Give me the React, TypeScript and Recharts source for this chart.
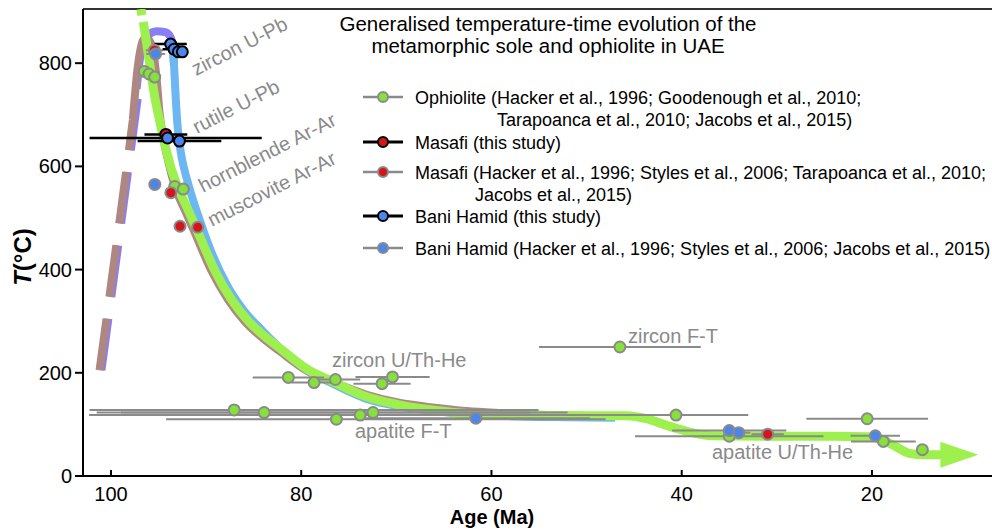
import React from "react";
import { ComposedChart, Line, Scatter, ErrorBar, XAxis, YAxis, ReferenceLine } from "recharts";

const xTicks = [100, 80, 60, 40, 20];
const yTicks = [0, 200, 400, 600, 800];

// thermal paths (age in Ma, T in °C)
const ophioliteTop = [
  { age: 96.85, T: 905 },
  { age: 96.75, T: 893 },
];
const ophiolitePath = [
  { age: 96.6, T: 880 }, { age: 96.3, T: 845 }, { age: 95.9, T: 795 }, { age: 95.4, T: 735 },
  { age: 94.9, T: 690 }, { age: 94.4, T: 648 }, { age: 93.7, T: 598 }, { age: 92.9, T: 557 },
  { age: 91.8, T: 512 }, { age: 90.8, T: 470 }, { age: 89.0, T: 395 }, { age: 87.3, T: 341 },
  { age: 85.5, T: 299 }, { age: 83.8, T: 270 }, { age: 82.0, T: 244 }, { age: 79.2, T: 205 },
  { age: 76.7, T: 183 }, { age: 73.2, T: 154 }, { age: 69.7, T: 138 }, { age: 66.2, T: 128 },
  { age: 62.6, T: 121 }, { age: 59.1, T: 118 }, { age: 52, T: 117 }, { age: 46, T: 117 },
  { age: 43.5, T: 110 }, { age: 42.2, T: 102 }, { age: 40.5, T: 92 }, { age: 38.7, T: 83 },
  { age: 36.9, T: 78 }, { age: 30, T: 77 }, { age: 24, T: 77 }, { age: 20.5, T: 76 },
  { age: 19.3, T: 73 }, { age: 18.3, T: 65 }, { age: 17.5, T: 57 }, { age: 16.1, T: 44 },
  { age: 14.5, T: 41 }, { age: 12.6, T: 41 },
];
const baniPath = [
  { age: 93.5, T: 842 }, { age: 93.35, T: 790 }, { age: 93.2, T: 735 }, { age: 93.05, T: 690 },
  { age: 92.7, T: 632 }, { age: 92.3, T: 595 }, { age: 91.8, T: 561 }, { age: 90.6, T: 492 },
  { age: 89.4, T: 432 }, { age: 87.8, T: 370 }, { age: 86, T: 320 }, { age: 84, T: 280 },
  { age: 82, T: 244 }, { age: 79.2, T: 203 }, { age: 76.7, T: 179 }, { age: 73.2, T: 150 },
  { age: 69.7, T: 135 }, { age: 66, T: 126 }, { age: 62.6, T: 120 }, { age: 58, T: 116 },
  { age: 52, T: 114 }, { age: 47, T: 113 },
];
const baniPrograde = [
  { age: 101.0, T: 205 }, { age: 100.0, T: 342 }, { age: 99.0, T: 480 },
  { age: 98.1, T: 605 }, { age: 97.2, T: 730 }, { age: 97.0, T: 757 },
];
const baniPeak = [
  { age: 97.3, T: 750 }, { age: 96.9, T: 815 }, { age: 96.2, T: 852 }, { age: 95.2, T: 862 },
  { age: 94.3, T: 860 }, { age: 93.75, T: 851 }, { age: 93.5, T: 832 }, { age: 93.38, T: 795 },
];
const masafiPrograde = [
  { age: 101.2, T: 205 }, { age: 100.2, T: 342 }, { age: 99.2, T: 480 },
  { age: 98.3, T: 605 }, { age: 97.7, T: 690 },
];
const masafiPath = [
  { age: 97.7, T: 690 }, { age: 97.2, T: 790 }, { age: 96.8, T: 835 }, { age: 96.4, T: 850 },
  { age: 96.0, T: 845 }, { age: 95.6, T: 825 }, { age: 95.2, T: 770 }, { age: 94.9, T: 705 },
  { age: 94.5, T: 655 }, { age: 93.9, T: 604 }, { age: 93.3, T: 562 }, { age: 92.2, T: 514 },
  { age: 91.2, T: 472 }, { age: 89.5, T: 400 }, { age: 87.7, T: 342 }, { age: 85.9, T: 299 },
  { age: 84.1, T: 268 }, { age: 82.2, T: 241 }, { age: 79.4, T: 204 }, { age: 76.8, T: 183 },
  { age: 73.2, T: 158 }, { age: 69.7, T: 142 }, { age: 66.2, T: 133 }, { age: 62.6, T: 126 },
  { age: 59, T: 122 }, { age: 54, T: 118 }, { age: 49, T: 116 },
];

// samples, err = age uncertainty (Ma), [younger side, older side] where asymmetric
const ophioliteSamples = [
  { age: 96.5, T: 784, err: 0 }, { age: 96.0, T: 779, err: 0 }, { age: 95.4, T: 773, err: 0 },
  { age: 93.3, T: 561, err: 0 }, { age: 92.4, T: 556, err: 0 },
  { age: 81.35, T: 191, err: 3.75 }, { age: 78.65, T: 181, err: 2.4 }, { age: 76.4, T: 187, err: 2.6 },
  { age: 71.5, T: 179, err: 3.0 }, { age: 70.4, T: 192, err: 3.9 },
  { age: 87.05, T: 128, err: [32, 15.2] }, { age: 83.9, T: 123, err: [31.9, 17.6] },
  { age: 76.3, T: 110, err: [28.3, 17.9] }, { age: 73.8, T: 118, err: [23.8, 28.5] },
  { age: 72.45, T: 123, err: [16.5, 26.5] },
  { age: 46.5, T: 250, err: 8.5 },
  { age: 40.6, T: 118, err: [7.6, 9.8] }, { age: 35.0, T: 77, err: 9.9 },
  { age: 20.5, T: 111, err: 6.4 }, { age: 18.8, T: 67, err: 3.4 }, { age: 14.7, T: 51, err: 0 },
];
const masafiOwn = [{ age: 94.23, T: 662, err: 2.25 }];
const masafiLit = [
  { age: 95.43, T: 825, err: 0.9 }, { age: 93.7, T: 549, err: 0 }, { age: 92.74, T: 484, err: 0 },
  { age: 90.88, T: 482, err: 0 }, { age: 30.96, T: 81, err: 1.7 },
];
const baniOwn = [
  { age: 93.73, T: 837, err: 1.7 }, { age: 93.37, T: 827, err: 1.2 }, { age: 92.92, T: 822, err: 0.8 },
  { age: 92.5, T: 822, err: 0 }, { age: 94.05, T: 655, err: [9.9, 8.2] }, { age: 92.8, T: 649, err: 4.4 },
];
const baniLit = [
  { age: 95.3, T: 818, err: 1.0 }, { age: 95.39, T: 565, err: 0 }, { age: 61.64, T: 112, err: 12 },
  { age: 35.0, T: 88, err: 6 }, { age: 34.0, T: 84, err: 1.2 }, { age: 19.65, T: 78, err: 2.6 },
];

const legendRows = [
  { text: ["Ophiolite (Hacker et al., 1996; Goodenough et al., 2010;", "Tarapoanca et al., 2010; Jacobs et al., 2015)"], fill: "#86E13A", bar: "#8a8a8a", indent: 497, y: 97, y2: 119 },
  { text: ["Masafi (this study)"], fill: "#D4161B", bar: "#000", indent: 0, y: 142, y2: 0 },
  { text: ["Masafi (Hacker et al., 1996; Styles et al., 2006; Tarapoanca et al., 2010;", "Jacobs et al., 2015)"], fill: "#D4161B", bar: "#8a8a8a", indent: 475, y: 172, y2: 194 },
  { text: ["Bani Hamid (this study)"], fill: "#4C86EA", bar: "#000", indent: 0, y: 216, y2: 0 },
  { text: ["Bani Hamid (Hacker et al., 1996; Styles et al., 2006; Jacobs et al., 2015)"], fill: "#4C86EA", bar: "#8a8a8a", indent: 0, y: 248, y2: 0 },
];

const methods = [
  { text: "zircon U-Pb", x: 196, y: 76, rot: -27 },
  { text: "rutile U-Pb", x: 197, y: 134, rot: -27 },
  { text: "hornblende Ar-Ar", x: 203, y: 193, rot: -27 },
  { text: "muscovite Ar-Ar", x: 212, y: 227, rot: -27 },
  { text: "zircon U/Th-He", x: 332, y: 367, rot: 0 },
  { text: "zircon F-T", x: 628, y: 343, rot: 0 },
  { text: "apatite F-T", x: 355, y: 438, rot: 0 },
  { text: "apatite U/Th-He", x: 712, y: 459, rot: 0 },
];

const GREEN_LINE = "#9DF04E";
const GRAY = "#8a8a8a";

const dot = (fill: string, stroke: string) => (p: any) => (
  <circle cx={p.cx} cy={p.cy} r={5.5} fill={fill} stroke={stroke} strokeWidth={2} />
);

const arrowDot = (p: any) =>
  p.index === ophiolitePath.length - 1 ? (
    <path key="arrow" d={`M${p.cx - 2},${p.cy - 13} L${p.cx + 36},${p.cy} L${p.cx - 2},${p.cy + 13} Z`} fill={GREEN_LINE} />
  ) : (
    <g key={`d${p.index}`} />
  );

export default function App() {
  const font = "'Liberation Sans', Arial, sans-serif";
  return (
    <div style={{ position: "absolute", left: 0, top: 0, width: 992, height: 531, fontFamily: font, background: "#fff" }}>
      <ComposedChart width={992} height={531} margin={{ top: 9, right: 0, bottom: 5, left: 8 }}>
        <XAxis
          type="number" dataKey="age" domain={[7.38, 102.94]} reversed allowDataOverflow ticks={xTicks}
          height={50} tickSize={-6} tickMargin={17}
          axisLine={{ stroke: "#000", strokeWidth: 2 }} tickLine={{ stroke: "#000", strokeWidth: 2 }}
          tick={{ fill: "#000", fontSize: 20 }}
        />
        <YAxis
          type="number" dataKey="T" domain={[0, 905]} allowDataOverflow ticks={yTicks}
          width={75} tickSize={8} tickMargin={3}
          axisLine={{ stroke: "#000", strokeWidth: 2 }} tickLine={{ stroke: "#000", strokeWidth: 2 }}
          tick={{ fill: "#000", fontSize: 20 }}
        />
        <ReferenceLine y={905} stroke="#333" strokeWidth={2} />
        <Line data={baniPrograde} dataKey="T" type="monotone" stroke="#8A7EF6" strokeWidth={8} strokeDasharray="52 22" dot={false} isAnimationActive={false} />
        <Line data={baniPeak} dataKey="T" type="monotone" stroke="#8A7EF6" strokeWidth={8} dot={false} isAnimationActive={false} />
        <Line data={masafiPrograde} dataKey="T" type="monotone" stroke="#AE8682" strokeWidth={8} strokeDasharray="52 22" dot={false} isAnimationActive={false} />
        <Line data={masafiPath} dataKey="T" type="monotone" stroke="#AE8682" strokeWidth={8} dot={false} isAnimationActive={false} />
        <Line data={baniPath} dataKey="T" type="monotone" stroke="#6CB6F2" strokeWidth={8} dot={false} isAnimationActive={false} />
        <Line data={ophioliteTop} dataKey="T" type="linear" stroke={GREEN_LINE} strokeWidth={9} dot={false} isAnimationActive={false} />
        <Line data={ophiolitePath} dataKey="T" type="monotone" stroke={GREEN_LINE} strokeWidth={9} dot={arrowDot} isAnimationActive={false} />
        <Scatter data={ophioliteSamples} dataKey="T" shape={dot("#86E13A", GRAY)} isAnimationActive={false}>
          <ErrorBar dataKey="err" direction="x" width={0} stroke={GRAY} strokeWidth={2} />
        </Scatter>
        <Scatter data={masafiLit} dataKey="T" shape={dot("#D4161B", GRAY)} isAnimationActive={false}>
          <ErrorBar dataKey="err" direction="x" width={0} stroke={GRAY} strokeWidth={2} />
        </Scatter>
        <Scatter data={baniLit} dataKey="T" shape={dot("#4C86EA", GRAY)} isAnimationActive={false}>
          <ErrorBar dataKey="err" direction="x" width={0} stroke={GRAY} strokeWidth={2} />
        </Scatter>
        <Scatter data={masafiOwn} dataKey="T" shape={dot("#D4161B", "#000")} isAnimationActive={false}>
          <ErrorBar dataKey="err" direction="x" width={0} stroke="#000" strokeWidth={2.5} />
        </Scatter>
        <Scatter data={baniOwn} dataKey="T" shape={dot("#4C86EA", "#000")} isAnimationActive={false}>
          <ErrorBar dataKey="err" direction="x" width={0} stroke="#000" strokeWidth={2.5} />
        </Scatter>
      </ComposedChart>
      <svg width={992} height={531} style={{ position: "absolute", left: 0, top: 0, pointerEvents: "none" }}>
        <g fontSize={20.5} fill="#000" textAnchor="middle">
          <text x={548} y={31}>Generalised temperature-time evolution of the</text>
          <text x={548} y={53}>metamorphic sole and ophiolite in UAE</text>
        </g>
        <g fontSize={20} fill={GRAY}>
          {methods.map((m) => (
            <text key={m.text} x={m.x} y={m.y} transform={`rotate(${m.rot} ${m.x} ${m.y})`}>{m.text}</text>
          ))}
        </g>
        <g fontSize={18} fill="#000">
          {legendRows.map((r) => (
            <g key={r.text[0]}>
              <line x1={363} x2={403} y1={r.y} y2={r.y} stroke={r.bar} strokeWidth={r.bar === "#000" ? 3 : 2.5} />
              <circle cx={383} cy={r.y} r={5} fill={r.fill} stroke={r.bar} strokeWidth={2} />
              <text x={415} y={r.y + 6.5}>{r.text[0]}</text>
              {r.text[1] && <text x={r.indent} y={r.y2 + 6.5}>{r.text[1]}</text>}
            </g>
          ))}
        </g>
        <text x={492} y={524} fontSize={20} fontWeight="bold" textAnchor="middle">Age (Ma)</text>
        <text x={31} y={257} fontSize={24} fontWeight="bold" textAnchor="middle" transform="rotate(-90 31 257)">
          <tspan fontStyle="italic">T</tspan>(°C)
        </text>
      </svg>
    </div>
  );
}
